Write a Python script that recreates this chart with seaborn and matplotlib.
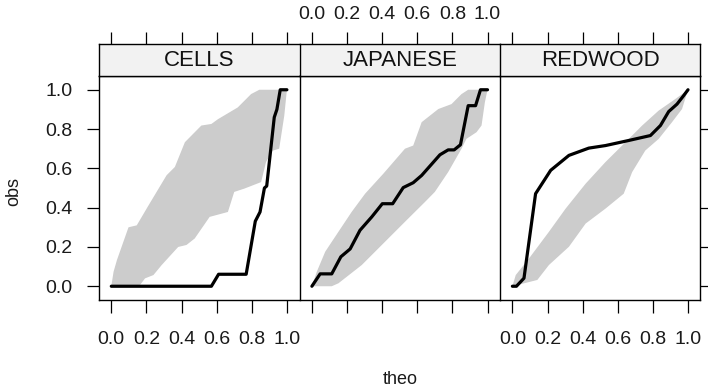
import numpy as np
import matplotlib.pyplot as plt
import seaborn as sns

sns.set_theme(style='white')
plt.rcParams['font.family'] = ['Liberation Sans', 'DejaVu Sans']

panels = ['CELLS', 'JAPANESE', 'REDWOOD']
ticks = [0.0, 0.2, 0.4, 0.6, 0.8, 1.0]
tick_labels = ['0.0', '0.2', '0.4', '0.6', '0.8', '1.0']

# observed curves (theo -> obs)
cells_theo = [0, 0.57, 0.611, 0.768, 0.82, 0.847, 0.872, 0.885, 0.928, 0.943, 0.962, 1.0]
cells_obs = [0, 0, 0.061, 0.061, 0.331, 0.378, 0.50, 0.51, 0.86, 0.90, 1.0, 1.0]
jap_theo = [0, 0.047, 0.113, 0.165, 0.218, 0.274, 0.341, 0.401, 0.46, 0.52, 0.577,
            0.625, 0.729, 0.776, 0.81, 0.846, 0.89, 0.932, 0.96, 1.0]
jap_obs = [0, 0.063, 0.063, 0.15, 0.19, 0.285, 0.353, 0.42, 0.42, 0.502, 0.527,
           0.564, 0.669, 0.694, 0.694, 0.72, 0.919, 0.919, 1.0, 1.0]
red_theo = [0, 0.023, 0.066, 0.132, 0.218, 0.322, 0.435, 0.53, 0.663, 0.786, 0.843,
            0.89, 0.9375, 0.975, 1.0]
red_obs = [0, 0, 0.041, 0.471, 0.59, 0.666, 0.703, 0.716, 0.742, 0.767, 0.818,
           0.889, 0.927, 0.97, 1.0]

# envelope upper edge
cells_hi_theo = [0, 0.013, 0.032, 0.098, 0.145, 0.211, 0.315, 0.362, 0.419, 0.513, 0.57,
                 0.607, 0.72, 0.796, 0.843, 1.0]
cells_hi = [0, 0.074, 0.133, 0.30, 0.31, 0.41, 0.565, 0.607, 0.733, 0.818, 0.826,
            0.85, 0.91, 0.978, 1.0, 1.0]
jap_hi_theo = [0, 0.028, 0.076, 0.151, 0.227, 0.303, 0.407, 0.53, 0.577, 0.625, 0.72,
               0.795, 0.852, 0.89, 1.0]
jap_hi = [0, 0.074, 0.176, 0.277, 0.379, 0.471, 0.573, 0.70, 0.716, 0.835, 0.902,
          0.927, 0.978, 1.0, 1.0]
red_hi_theo = [0, 0.019, 0.095, 0.208, 0.303, 0.417, 0.53, 0.663, 0.739, 0.833, 0.928, 1.0]
red_hi = [0, 0.057, 0.142, 0.277, 0.395, 0.522, 0.632, 0.75, 0.818, 0.894, 0.953, 1.0]

# envelope lower edge
cells_lo_theo = [0, 0.164, 0.192, 0.24, 0.287, 0.381, 0.428, 0.475, 0.56, 0.664, 0.70,
                 0.758, 0.853, 0.881, 0.919, 0.956, 0.985, 1.0]
cells_lo = [0, 0.007, 0.04, 0.057, 0.108, 0.20, 0.21, 0.243, 0.353, 0.378, 0.48,
            0.497, 0.53, 0.632, 0.69, 0.70, 0.868, 1.0]
jap_lo_theo = [0, 0.113, 0.151, 0.284, 0.435, 0.53, 0.644, 0.70, 0.776, 0.852, 0.88,
               0.9375, 0.966, 0.985, 1.0]
jap_lo = [0, 0, 0.015, 0.108, 0.243, 0.328, 0.429, 0.48, 0.581, 0.70, 0.75,
          0.784, 0.818, 0.936, 1.0]
red_lo_theo = [0, 0.142, 0.208, 0.322, 0.417, 0.53, 0.634, 0.682, 0.757, 0.833, 0.909,
               0.966, 1.0]
red_lo = [0, 0.032, 0.108, 0.201, 0.319, 0.395, 0.471, 0.581, 0.691, 0.75, 0.835,
          0.902, 1.0]

obs_data = [(cells_theo, cells_obs), (jap_theo, jap_obs), (red_theo, red_obs)]
hi_data = [(cells_hi_theo, cells_hi), (jap_hi_theo, jap_hi), (red_hi_theo, red_hi)]
lo_data = [(cells_lo_theo, cells_lo), (jap_lo_theo, jap_lo), (red_lo_theo, red_lo)]

W, H = 708, 391
fig = plt.figure(figsize=(W / 100, H / 100), dpi=100)

lims = (-0.07, 1.07)
lefts = [99, 299.6, 500.1]
pw = 200.2
tick_kw = dict(direction='out', length=9, width=0.9, color='black',
               labelsize=14, labelcolor='#1a1a1a')

for i, name in enumerate(panels):
    ax = fig.add_axes([lefts[i] / W, (H - 300) / H, pw / W, 224 / H])
    strip = fig.add_axes([lefts[i] / W, (H - 76) / H, pw / W, 32 / H])

    # envelope band (upper edge forward, lower edge backward)
    hx, hy = hi_data[i]
    lx, ly = lo_data[i]
    ax.fill(np.r_[hx, lx[::-1]], np.r_[hy, ly[::-1]], color='#CCCCCC', lw=0, zorder=1)
    tx, oy = obs_data[i]
    sns.lineplot(x=tx, y=oy, ax=ax, color='black', lw=2.3, sort=False,
                 estimator=None, zorder=3)

    ax.set_xlim(lims)
    ax.set_ylim(lims)
    ax.set_xticks(ticks)
    ax.set_yticks(ticks)
    ax.set_xlabel('')
    ax.set_ylabel('')
    for sp in ax.spines.values():
        sp.set_color('black')
        sp.set_linewidth(1.0)
    ax.tick_params(axis='x', bottom=True, labelbottom=(i != 1), pad=13, **tick_kw)
    ax.set_xticklabels(tick_labels)
    ax.tick_params(axis='y', left=(i == 0), labelleft=(i == 0),
                   right=(i == 2), labelright=False, pad=10, **tick_kw)
    ax.set_yticklabels(tick_labels)

    # strip with panel name, top ticks on the strip
    strip.set_facecolor('#F2F2F2')
    strip.set_xlim(lims)
    strip.set_ylim(0, 1)
    strip.set_xticks(ticks)
    strip.set_xticklabels(tick_labels)
    strip.set_yticks([])
    strip.tick_params(axis='x', bottom=False, labelbottom=False, top=True,
                      labeltop=(i == 1), pad=6, **tick_kw)
    for sp in strip.spines.values():
        sp.set_color('black')
        sp.set_linewidth(1.0)
    # shared borders drawn once
    if i < 2:
        ax.spines['right'].set_visible(False)
        strip.spines['right'].set_visible(False)
    strip.text(0.5, 0.47, name, transform=strip.transAxes, ha='center', va='center',
               fontsize=16, color='#111111')

fig.text(400 / W, (H - 380) / H, 'theo', ha='center', va='center', fontsize=13,
         color='#1a1a1a')
fig.text(14 / W, (H - 192) / H, 'obs', ha='center', va='center', rotation=90,
         fontsize=13, color='#1a1a1a')

fig.savefig('out.png', dpi=100)
